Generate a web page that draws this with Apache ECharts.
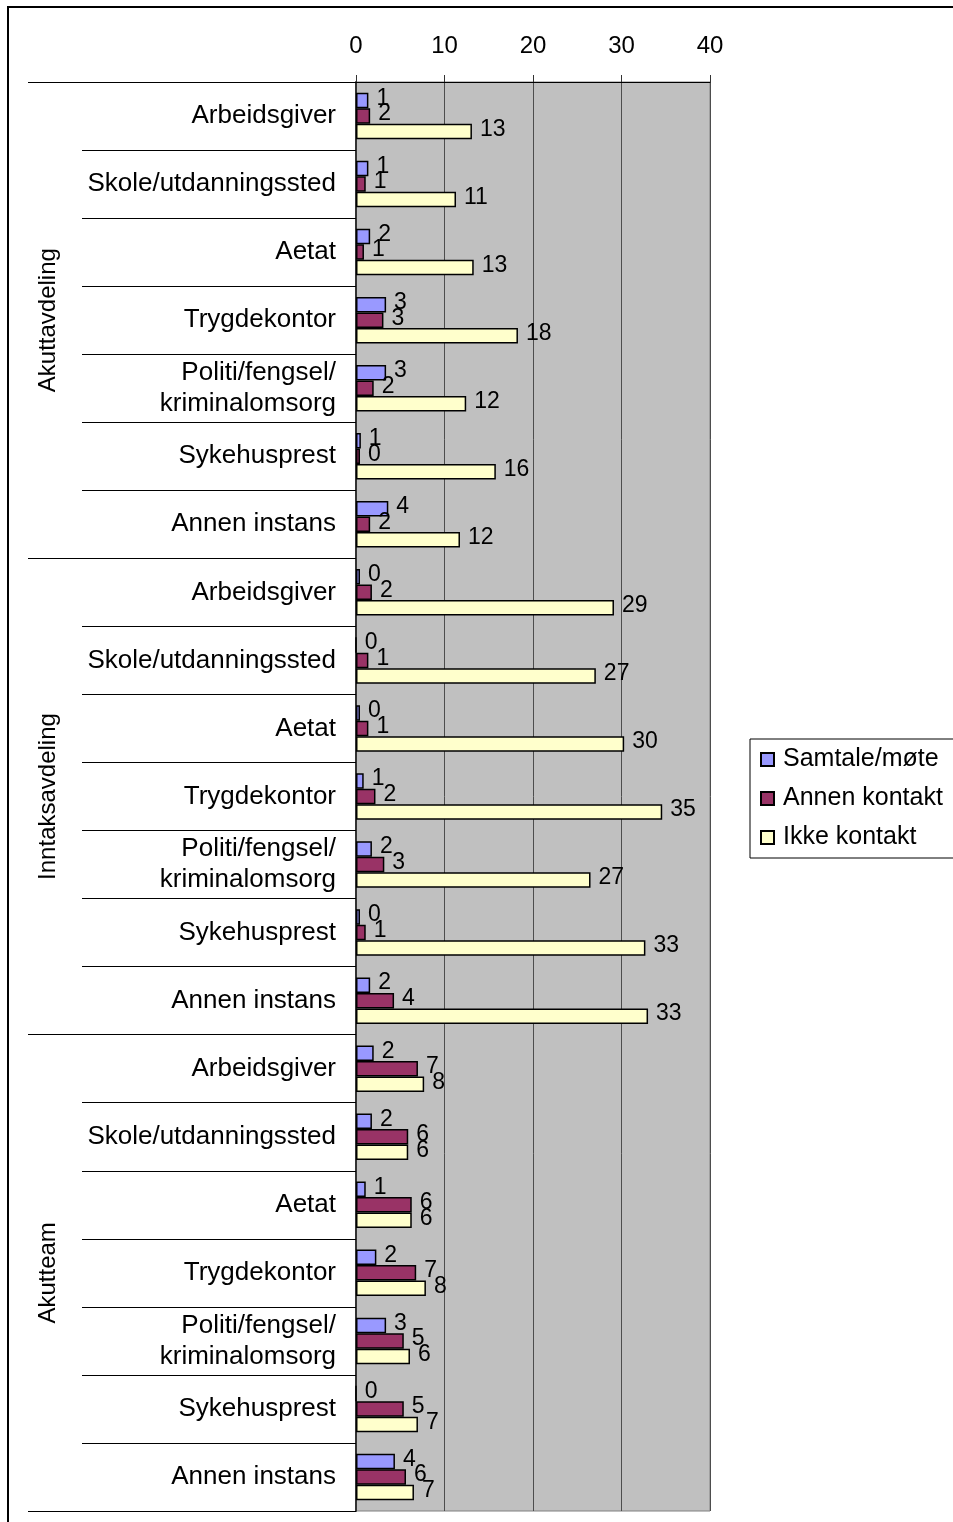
<!DOCTYPE html>
<html>
<head>
<meta charset="utf-8">
<script src="https://cdn.jsdelivr.net/npm/echarts@6/dist/echarts.min.js"></script>
<style>
  html, body { margin: 0; padding: 0; background: #fff; }
  #chart { width: 953px; height: 1522px; }
</style>
</head>
<body>
<div id="chart"></div>
<script>
// kategorier (7 per gruppe)
var instanser = ['Arbeidsgiver', 'Skole/utdanningssted', 'Aetat', 'Trygdekontor',
  'Politi/fengsel/\nkriminalomsorg', 'Sykehusprest', 'Annen instans'];
var grupper = ['Akuttavdeling', 'Inntaksavdeling', 'Akutteam'];
var categories = instanser.concat(instanser, instanser);

var seriesNames = ['Samtale/møte', 'Annen kontakt', 'Ikke kontakt'];
var samtale = [1.4, 1.4, 1.6, 3.4, 3.4, 0.55, 3.65,
  0.45, 0, 0.45, 0.87, 1.8, 0.45, 1.6,
  2.0, 1.8, 1.1, 2.3, 3.4, 0, 4.4];
var annen = [1.6, 1.1, 0.9, 3.1, 2.0, 0.45, 1.6,
  1.8, 1.4, 1.4, 2.2, 3.2, 1.1, 4.3,
  7.0, 5.9, 6.3, 6.8, 5.4, 5.4, 5.65];
var ikke = [13.1, 11.3, 13.3, 18.3, 12.45, 15.8, 11.75,
  29.15, 27.1, 30.3, 34.6, 26.5, 32.7, 33.0,
  7.7, 5.9, 6.3, 7.9, 6.1, 7.0, 6.55];
var xTicks = [0, 40, 10]; // min, max, interval

var colors = ['#9999FF', '#993366', '#FFFFCC'];
var font = 'Liberation Sans, Arial, sans-serif';

var myChart = echarts.init(document.getElementById('chart'));

function lagSerie(name, data, farge) {
  return {
    name: name,
    type: 'bar',
    yAxisIndex: 0,
    data: data,
    barWidth: 15.5,
    barGap: '0%',
    itemStyle: { color: farge, borderColor: '#000', borderWidth: 1.5 },
    label: {
      show: true,
      position: 'right',
      distance: 8,
      offset: [0, -2],
      fontFamily: font,
      fontSize: 23,
      color: '#000',
      formatter: function (p) { return Math.round(p.value); }
    }
  };
}

var option = {
  animation: false,
  textStyle: { fontFamily: font },
  grid: {
    left: 356, top: 82, width: 354, height: 1429,
    show: true, backgroundColor: '#C0C0C0',
    borderColor: '#808080', borderWidth: 1
  },
  legend: {
    orient: 'vertical',
    left: 750, top: 739,
    data: seriesNames,
    icon: 'rect',
    itemWidth: 13, itemHeight: 13,
    itemGap: 14,
    padding: [8, 20, 8, 10],
    borderColor: '#000', borderWidth: 1,
    textStyle: { fontFamily: font, fontSize: 25, color: '#000', lineHeight: 25, padding: [0, 0, 0, 4] }
  },
  xAxis: {
    type: 'value',
    position: 'top',
    min: xTicks[0], max: xTicks[1], interval: xTicks[2],
    axisLine: { show: true, lineStyle: { color: '#000', width: 1 } },
    axisTick: { show: true, length: 7, lineStyle: { color: '#333' } },
    axisLabel: { fontFamily: font, fontSize: 24, color: '#000', margin: 24 },
    splitLine: { show: true, lineStyle: { color: '#4d4d4d', width: 1 } }
  },
  yAxis: [{
    type: 'category',
    data: categories,
    inverse: true,
    position: 'left',
    axisLine: { show: true, lineStyle: { color: '#333', width: 2 } },
    axisTick: { show: true, length: 274, lineStyle: { color: '#000', width: 1 } },
    axisLabel: { fontFamily: font, fontSize: 26, color: '#000', margin: 20, lineHeight: 31 }
  }, {
    type: 'category',
    data: grupper,
    inverse: true,
    position: 'left',
    axisLine: { show: false },
    axisTick: { show: true, length: 328, lineStyle: { color: '#000', width: 1 } },
    axisLabel: { fontFamily: font, fontSize: 24, color: '#000', rotate: 90, margin: 296 }
  }],
  graphic: [{
    type: 'rect',
    shape: { x: 8, y: 7, width: 1000, height: 1600 },
    style: { fill: 'none', stroke: '#000', lineWidth: 2 },
    silent: true
  }],
  series: [
    lagSerie(seriesNames[0], samtale, colors[0]),
    lagSerie(seriesNames[1], annen, colors[1]),
    lagSerie(seriesNames[2], ikke, colors[2])
  ]
};

myChart.setOption(option);
</script>
</body>
</html>
